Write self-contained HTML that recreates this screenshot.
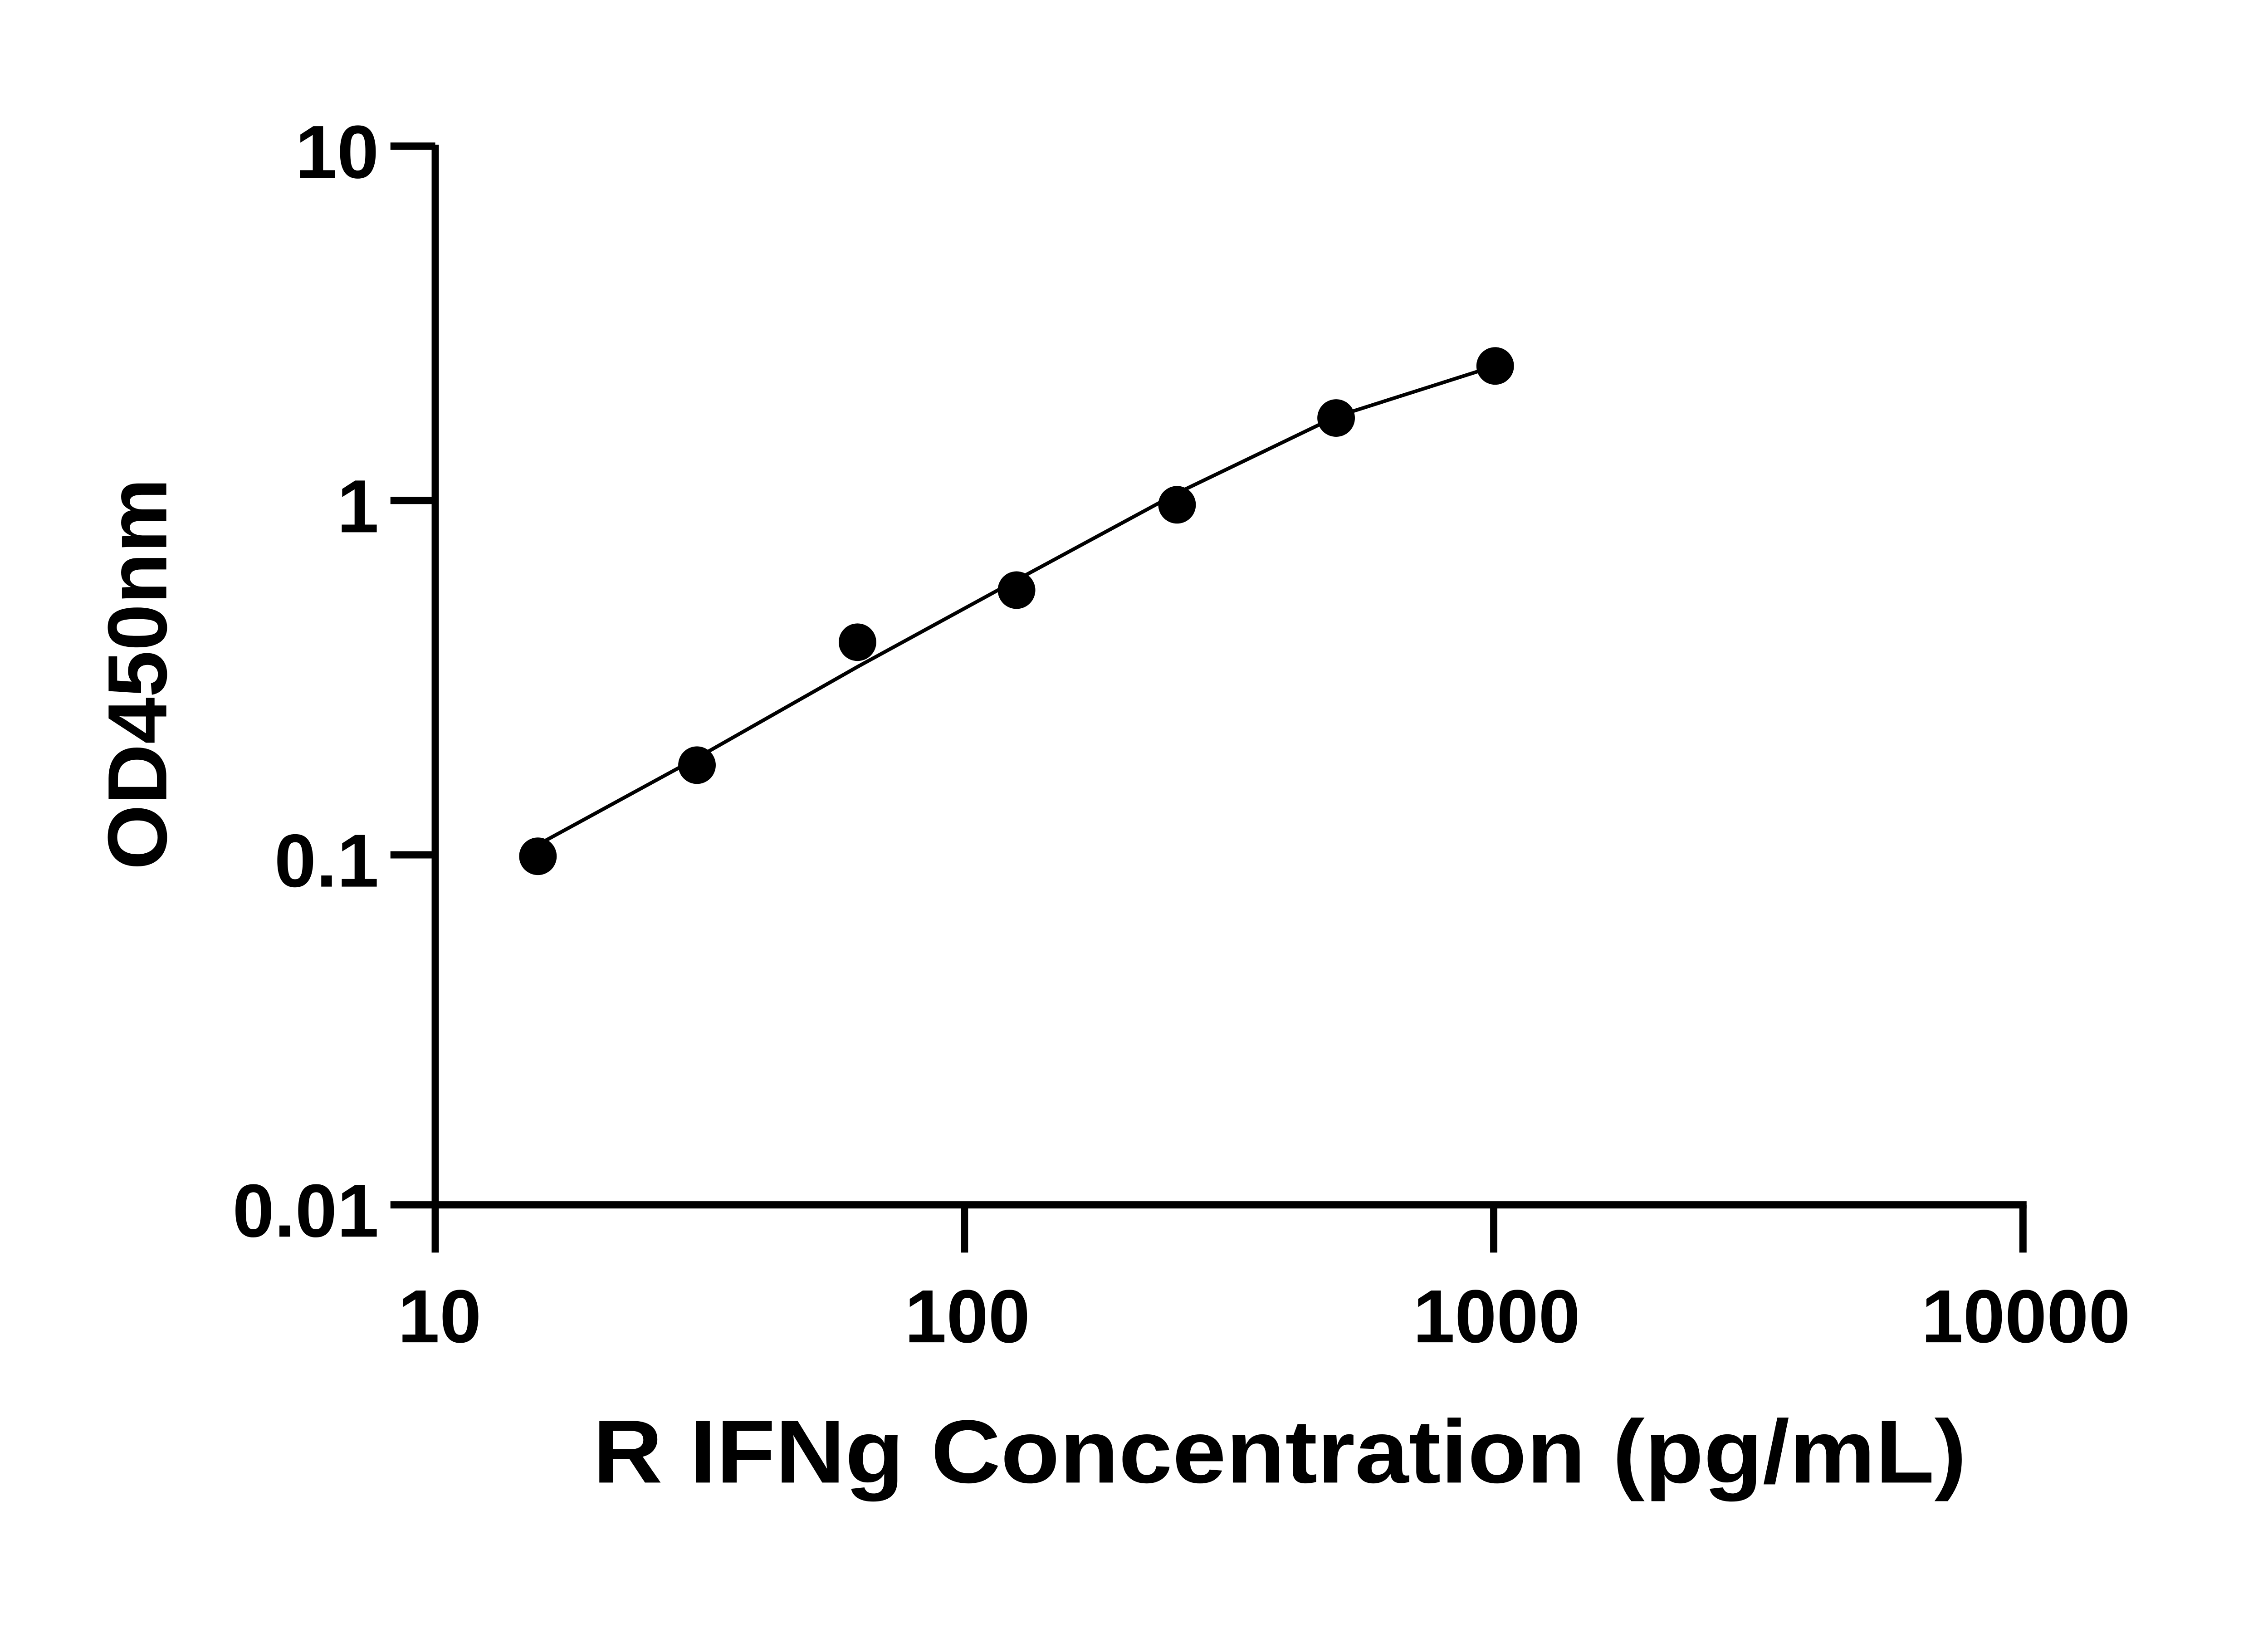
<!DOCTYPE html>
<html><head><style>html,body{margin:0;padding:0;background:#fff;}svg{display:block}</style></head>
<body>
<svg width="5142" height="3600" viewBox="0 0 1613 1129" preserveAspectRatio="none" xmlns="http://www.w3.org/2000/svg">
<rect width="1613" height="1129" fill="#fff"/>
<g stroke="#000" stroke-width="5" fill="none">
<line x1="301" y1="100" x2="301" y2="866"/>
<line x1="298.5" y1="833" x2="1401.5" y2="833"/>
<line x1="270" y1="101" x2="301" y2="101"/>
<line x1="270" y1="346" x2="301" y2="346"/>
<line x1="270" y1="591" x2="301" y2="591"/>
<line x1="270" y1="833" x2="301" y2="833"/>
<line x1="667" y1="833" x2="667" y2="866"/>
<line x1="1033" y1="833" x2="1033" y2="866"/>
<line x1="1399" y1="833" x2="1399" y2="866"/>
</g>
<polyline fill="none" stroke="#000" stroke-width="2.5" points="372,584 482,524 593,461 703,401 814,341 924,288 1034,253"/>
<g fill="#000">
<circle cx="372" cy="592" r="13"/>
<circle cx="482" cy="529" r="13"/>
<circle cx="593" cy="444" r="13"/>
<circle cx="703" cy="408" r="13"/>
<circle cx="814" cy="349" r="13"/>
<circle cx="924" cy="289" r="13"/>
<circle cx="1034" cy="253" r="13"/>
</g>
<g font-family="Liberation Sans, sans-serif" font-weight="bold" font-size="52" fill="#000">
<g text-anchor="end">
<text x="262" y="123">10</text>
<text x="262" y="368">1</text>
<text x="262" y="613">0.1</text>
<text x="262" y="855">0.01</text>
</g>
<g text-anchor="middle">
<text x="304" y="928">10</text>
<text x="669" y="928">100</text>
<text x="1035" y="928">1000</text>
<text x="1401" y="928">10000</text>
</g>
<text x="410" y="1025" font-size="62" textLength="950" lengthAdjust="spacingAndGlyphs">R IFNg Concentration (pg/mL)</text>
<text transform="translate(115,466) rotate(-90)" text-anchor="middle" font-size="58">OD450nm</text>
</g>
</svg>
</body></html>
